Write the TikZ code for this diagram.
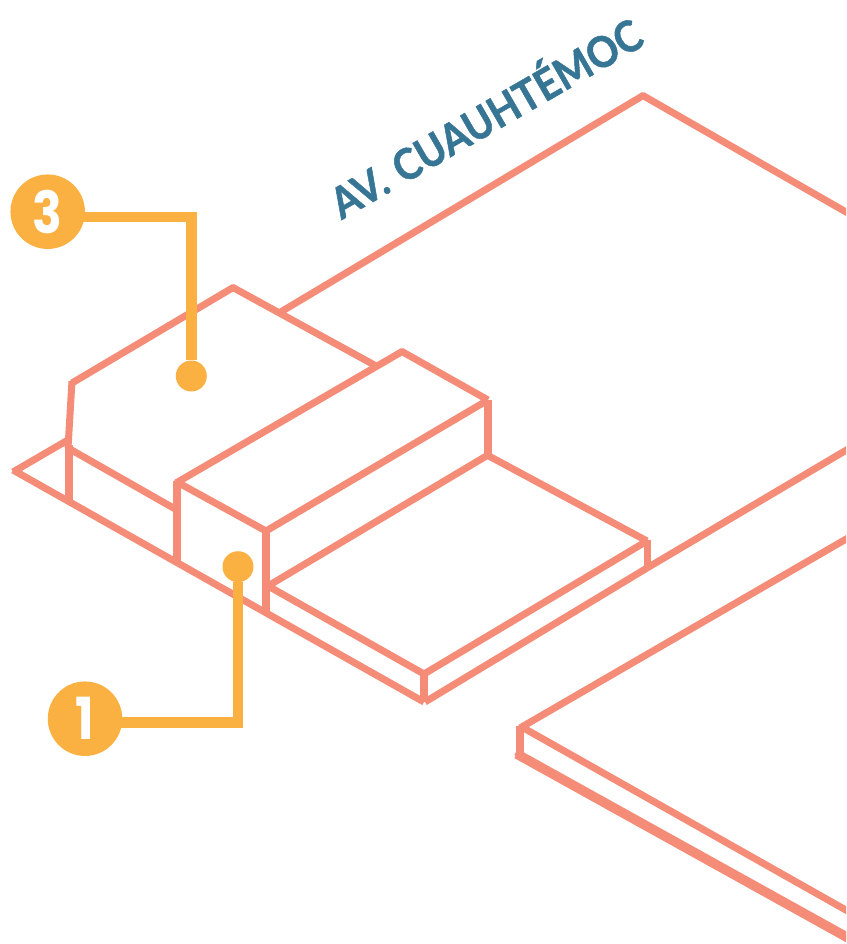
\documentclass[tikz,border=0pt]{standalone}
\usepackage{fontspec}
\setmainfont{Lato}
\newfontfamily\digitfont{Poppins}[FakeStretch=0.85]
\newfontfamily\streetfont{Lato}[BoldFeatures={FakeBold=1.2,FakeStretch=0.91}]
\definecolor{salmon}{HTML}{F48C78}
\definecolor{amber}{HTML}{FAB141}
\definecolor{street}{HTML}{377595}
\tikzset{
  edge/.style={draw=salmon,line width=7pt},
  post/.style={draw=salmon,line width=8pt},
  lead/.style={draw=amber,line width=10.5pt,line join=miter},
  badge/.style={circle,fill=amber,minimum size=74.5pt,inner sep=0pt,text=white,font=\digitfont\fontsize{58}{58}\selectfont\bfseries},
  dot/.style={circle,fill=amber,minimum size=31pt,inner sep=0pt},
}
\begin{document}
\begin{tikzpicture}[x=1pt,y=-1pt]
\useasboundingbox (0,0) rectangle (846,944);
\clip (0,0) rectangle (846,944);
% upper ground plate and back block
\draw[edge] (279,313) -- (644,95);
\draw[edge] (642,95) -- (860,220);
\draw[edge] (72,383) -- (234,287);
\draw[edge] (232,287) -- (378,367);
\draw[edge] (72,381) -- (68,448);
\draw[edge] (68,440) -- (13,472);
\draw[edge] (13,470) -- (424,702);
\draw[edge] (68,448) -- (177,510);
\draw[post] (68.5,445) -- (68.5,503);
\draw[post] (177,481) -- (177,564);
% raised box
\draw[edge] (176,483) -- (403,351);
\draw[edge] (401,351) -- (488,400);
\draw[edge] (488,400) -- (266,531);
\draw[edge] (266,531) -- (177,482);
\draw[post] (266,530) -- (266,612);
\draw[post] (488,400) -- (488,456);
% low slab
\draw[edge] (488,455) -- (268,586);
\draw[edge] (268,586) -- (424,674);
\draw[edge] (424,674) -- (647,541);
\draw[edge] (647,541) -- (487,455);
\draw[post] (424,673) -- (424,702);
\draw[edge] (425,702) -- (647,568) -- (860,442);
\draw[edge] (647,540) -- (647,569);
% lower right plate
\draw[edge] (860,531) -- (520,728);
\draw[edge] (520,726) -- (860,918);
\draw[post] (520,726) -- (520,755);
\draw[edge] (516,752) -- (860,943);
\draw[edge] (516,755) -- (860,946);
% street label
\node[text=street,rotate=30,font=\streetfont\fontsize{43}{43}\selectfont\bfseries] (av) at (484,115) {AV.\hspace{3pt} CUAUHTÉMOC};
% callouts
\node[dot] (d3) at (191.3,376) {};
\node[dot] (d1) at (238,566.7) {};
\coordinate (c3) at (70,217);
\coordinate (c1) at (100,722.5);
\draw[lead] (c3) -| (d3);
\draw[lead] (c1) -| (d1);
\node[badge] (n3) at (47.7,211.7) {3};
\node[badge] (n1) at (85,718.7) {1};
\end{tikzpicture}
\end{document}
